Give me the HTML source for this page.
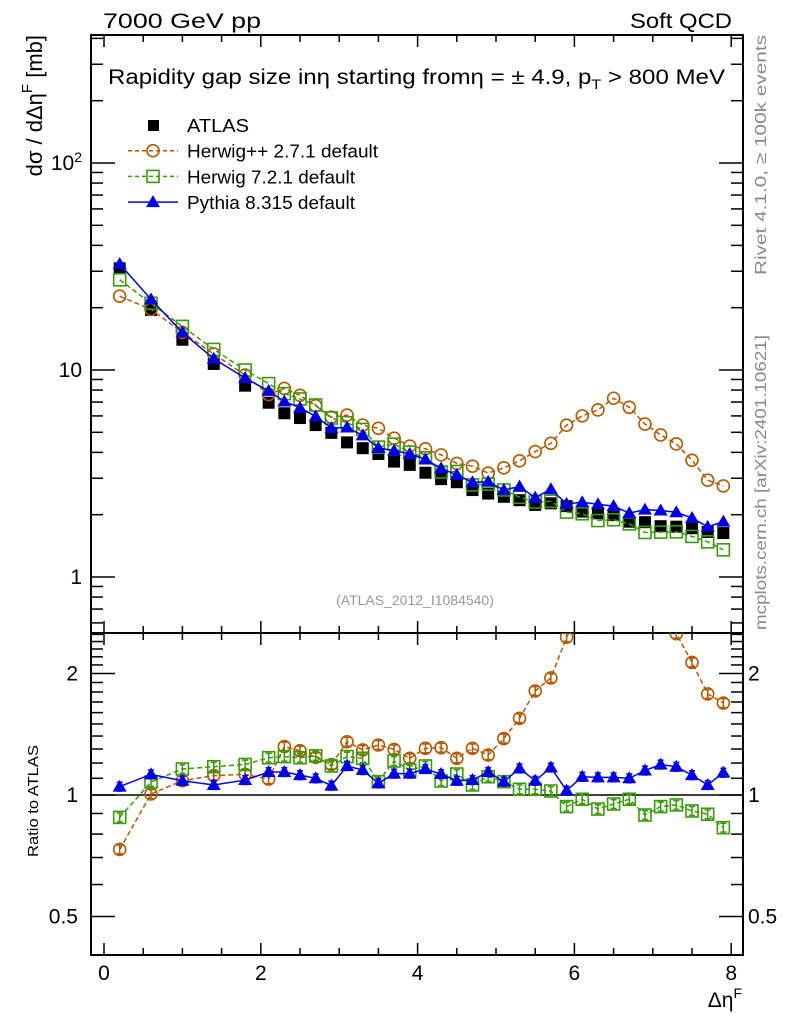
<!DOCTYPE html>
<html><head><meta charset="utf-8">
<style>
html,body{margin:0;padding:0;background:#fff;}
svg{display:block;font-family:"Liberation Sans",sans-serif;}
</style></head>
<body>
<svg id="chart" width="786" height="1024" viewBox="0 0 786 1024" xmlns="http://www.w3.org/2000/svg">
<text x="103" y="28" font-size="21" textLength="158" lengthAdjust="spacingAndGlyphs">7000 GeV pp</text>
<text x="630" y="28" font-size="21" textLength="102" lengthAdjust="spacingAndGlyphs">Soft QCD</text>
<text x="108" y="84" font-size="21" textLength="617" lengthAdjust="spacingAndGlyphs">Rapidity gap size in<tspan>η</tspan> starting from<tspan>η</tspan> = ± 4.9, p<tspan font-size="14" dy="5">T</tspan><tspan dy="-5"> &gt; 800 MeV</tspan></text>
<text transform="translate(42,35) rotate(-90)" font-size="22" text-anchor="end">dσ / dΔη<tspan font-size="15" dy="-10">F</tspan><tspan dy="10"> [mb]</tspan></text>
<text transform="translate(38,857) rotate(-90)" font-size="15" textLength="112" lengthAdjust="spacingAndGlyphs">Ratio to ATLAS</text>
<text transform="translate(766,275) rotate(-90)" font-size="16" fill="#888" textLength="240" lengthAdjust="spacingAndGlyphs">Rivet 4.1.0, ≥ 100k events</text>
<text transform="translate(766,630) rotate(-90)" font-size="16" fill="#888" textLength="295" lengthAdjust="spacingAndGlyphs">mcplots.cern.ch [arXiv:2401.10621]</text>
<text x="415" y="605" font-size="14" fill="#999" text-anchor="middle">(ATLAS_2012_I1084540)</text>
<text x="742" y="1007" font-size="21" text-anchor="end">Δη<tspan font-size="14" dy="-9">F</tspan></text>
<g id="axes"></g>
<defs>
<clipPath id="clipMain"><rect x="91" y="35" width="652" height="598"/></clipPath>
<clipPath id="clipRatio"><rect x="91" y="633" width="652" height="322"/></clipPath>
</defs>
<g id="mainSeries" clip-path="url(#clipMain)"></g>
<g id="ratioSeries" clip-path="url(#clipRatio)"></g>
<g id="legend"></g>
</svg>
<script>
const xValues = [0.2,0.6,1.0,1.4,1.8,2.1,2.3,2.5,2.7,2.9,3.1,3.3,3.5,3.7,3.9,4.1,4.3,4.5,4.7,4.9,5.1,5.3,5.5,5.7,5.9,6.1,6.3,6.5,6.7,6.9,7.1,7.3,7.5,7.7,7.9];
const atlasValues = [31,19.5,14.0,10.7,8.4,6.95,6.18,5.86,5.42,4.97,4.47,4.19,3.93,3.61,3.48,3.19,2.97,2.87,2.63,2.53,2.44,2.35,2.23,2.27,2.20,2.07,2.03,1.99,1.85,1.84,1.76,1.75,1.72,1.65,1.63];
const herwigPPRatio = [0.733,1.006,1.085,1.117,1.125,1.095,1.318,1.288,1.24,1.19,1.355,1.293,1.33,1.297,1.233,1.305,1.31,1.233,1.305,1.256,1.38,1.549,1.81,1.95,2.46,2.90,3.16,3.67,3.57,2.98,2.76,2.51,2.13,1.78,1.69];
const herwig7Ratio = [0.880,1.077,1.16,1.175,1.19,1.237,1.245,1.237,1.25,1.18,1.245,1.233,1.079,1.214,1.153,1.18,1.083,1.127,1.059,1.11,1.079,1.033,1.033,1.023,0.936,0.976,0.923,0.95,0.976,0.892,0.936,0.945,0.913,0.896,0.83];
const pythiaRatio = [1.049,1.125,1.085,1.059,1.089,1.14,1.14,1.12,1.10,1.055,1.18,1.153,1.069,1.13,1.13,1.16,1.127,1.085,1.089,1.14,1.079,1.164,1.085,1.17,1.025,1.11,1.106,1.106,1.10,1.15,1.19,1.175,1.12,1.059,1.136];
const xTickLabels = ["0","2","4","6","8"];
const ratioTickValues = [0.5,1,2];
const ratioTickLabels = ["0.5","1","2"];

const NS="http://www.w3.org/2000/svg";
const L=91,R=743,T=35,MB=633,B=955;
const xs = x => 104 + x*78.4;
const ym = v => 370 - (Math.log10(v)-1)*207;
const yr = r => 795 - Math.log2(r)*121.5;
function mk(tag,attrs,parent){const e=document.createElementNS(NS,tag);for(const k in attrs)e.setAttribute(k,attrs[k]);parent.appendChild(e);return e;}
const axes=document.getElementById('axes');
let f1=mk('rect',{x:L,y:T,width:R-L,height:MB-T,fill:'none',stroke:'#000','stroke-width':2},axes);


let f2=mk('rect',{x:L,y:MB,width:R-L,height:B-MB,fill:'none',stroke:'#000','stroke-width':2},axes);


for(let i=0;i<=16;i++){const x=i*0.5,px=xs(x),maj=(i%4===0);const len=maj?12:7;
 [[T,1],[MB,-1],[MB,1],[B,-1]].forEach(([y,d])=>{mk('line',{x1:px,x2:px,y1:y,y2:y+d*len,stroke:'#000','stroke-width':1.5},axes);});
}
xTickLabels.forEach((s,i)=>{const t=mk('text',{x:xs(i*2),y:980,'font-size':21,'text-anchor':'middle'},axes);t.textContent=s;
 
 });
for(let dec=-1;dec<=2;dec++){for(let m=1;m<10;m++){const v=m*Math.pow(10,dec);const py=ym(v);if(py<T||py>MB)continue;const len=m===1?24:12;
 mk('line',{x1:L,x2:L+len,y1:py,y2:py,stroke:'#000','stroke-width':1.5},axes);
 mk('line',{x1:R,x2:R-len,y1:py,y2:py,stroke:'#000','stroke-width':1.5},axes);}}
[[1,"1"],[10,"10"]].forEach(([v,s])=>{const t=mk('text',{x:82,y:ym(v)+7,'font-size':21,'text-anchor':'end'},axes);t.textContent=s;
 
 });
{const t=mk('text',{x:82,y:ym(100)+7,'font-size':21,'text-anchor':'end'},axes);t.innerHTML='10<tspan font-size="14" dy="-8">2</tspan>';
 
 }
for(let i=4;i<=25;i++){const r=i/10;const py=yr(r);if(py<MB||py>B)continue;const maj=(r===0.5||r===1||r===2);const len=maj?24:12;
 mk('line',{x1:L,x2:L+len,y1:py,y2:py,stroke:'#000','stroke-width':1.5},axes);
 mk('line',{x1:R,x2:R-len,y1:py,y2:py,stroke:'#000','stroke-width':1.5},axes);}
ratioTickValues.forEach((v,i)=>{
 const t1=mk('text',{x:78,y:yr(v)+7,'font-size':21,'text-anchor':'end'},axes);t1.textContent=ratioTickLabels[i];
 
 
 const t2=mk('text',{x:748,y:yr(v)+7,'font-size':21},axes);t2.textContent=ratioTickLabels[i];
 
 });
let ref=mk('line',{x1:L,x2:R,y1:yr(1),y2:yr(1),stroke:'#000','stroke-width':1.5},axes);



const main=document.getElementById('mainSeries'),rat=document.getElementById('ratioSeries');
function marker(kind,color,cx,cy,parent){
 if(kind==='circle')return mk('circle',{cx,cy,r:6,fill:'none',stroke:color,'stroke-width':1.6},parent);
 if(kind==='sq')return mk('rect',{x:cx-6,y:cy-6,width:12,height:12,fill:'none',stroke:color,'stroke-width':1.6},parent);
 if(kind==='tri')return mk('polygon',{points:`${cx},${cy-7} ${cx-7},${cy+5} ${cx+7},${cy+5}`,fill:color},parent);
 if(kind==='fsq')return mk('rect',{x:cx-6,y:cy-6,width:12,height:12,fill:color},parent);
}
const series=[
 {name:'herwigpp',ratio:herwigPPRatio,color:'#b35a00',dash:'5,3',kind:'circle'},
 {name:'herwig7',ratio:herwig7Ratio,color:'#3a9a0a',dash:'5,3',kind:'sq'},
 {name:'pythia',ratio:pythiaRatio,color:'#0000e6',dash:'',kind:'tri'}];
atlasValues.forEach((v,i)=>{const m=marker('fsq','#000',xs(xValues[i]),ym(v),main);
 
 });
series.forEach(s=>{
 const mainPts=s.ratio.map((r,i)=>[xs(xValues[i]),ym(r*atlasValues[i])]);
 const ratPts=s.ratio.map((r,i)=>[xs(xValues[i]),yr(r)]);
 const l1=mk('polyline',{points:mainPts.map(p=>p.join(',')).join(' '),fill:'none',stroke:s.color,'stroke-width':1.5,'stroke-dasharray':s.dash},main);
 
 
 const l2=mk('polyline',{points:ratPts.map(p=>p.join(',')).join(' '),fill:'none',stroke:s.color,'stroke-width':1.5,'stroke-dasharray':s.dash},rat);
 
 
 mainPts.forEach(p=>{const m=marker(s.kind,s.color,p[0],p[1],main);
  
  });
 ratPts.forEach((p,i)=>{
  const e=s.ratio[i]*0.025;const y1=yr(s.ratio[i]+e),y2=yr(s.ratio[i]-e);
  mk('line',{x1:p[0],x2:p[0],y1,y2,stroke:s.color,'stroke-width':1.5},rat);
  mk('line',{x1:p[0]-3,x2:p[0]+3,y1,y2:y1,stroke:s.color,'stroke-width':1.5},rat);
  mk('line',{x1:p[0]-3,x2:p[0]+3,y1:y2,y2,stroke:s.color,'stroke-width':1.5},rat);
  const m=marker(s.kind,s.color,p[0],p[1],rat);
  
  });
});
const lg=document.getElementById('legend');
const entries=[['ATLAS','#000','','fsq',false,62],['Herwig++ 2.7.1 default','#b35a00','4,3','circle',true,191],['Herwig 7.2.1 default','#3a9a0a','4,3','sq',true,168],['Pythia 8.315 default','#0000e6','','tri',true,168]];
entries.forEach((e,i)=>{const y=125+i*25.7;const g=mk('g',{},lg);
 
 
 if(e[4])mk('line',{x1:128,x2:178,y1:y,y2:y,stroke:e[1],'stroke-width':1.5,'stroke-dasharray':e[2]},g);
 if(e[3]==='fsq')mk('rect',{x:148,y:y-5,width:11,height:11,fill:'#000'},g);else marker(e[3],e[1],153,y,g);
 const t=mk('text',{x:187,y:y+7,'font-size':18,textLength:e[5],lengthAdjust:'spacingAndGlyphs'},g);t.textContent=e[0];});
</script>
</body></html>
